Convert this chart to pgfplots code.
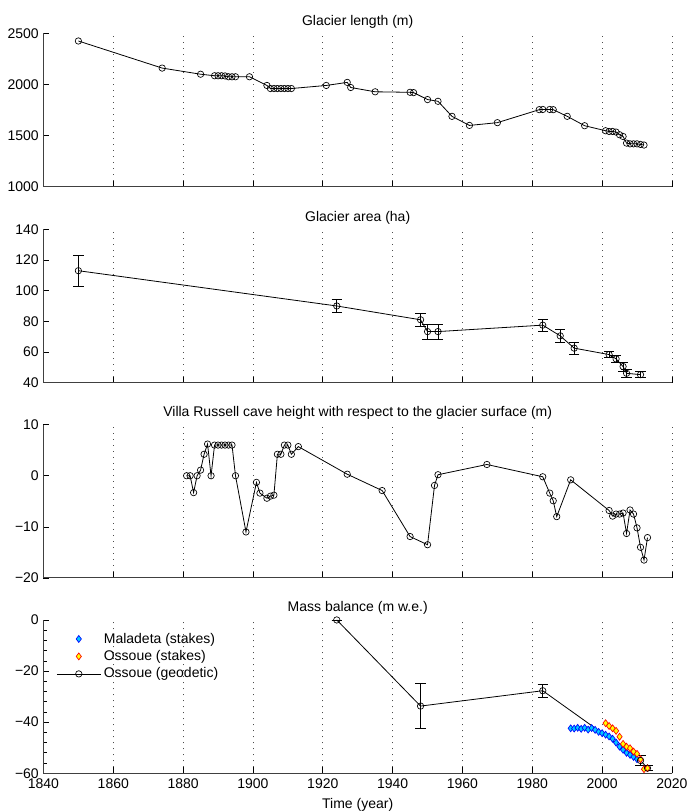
\documentclass[border=0pt]{standalone}
\usepackage{fontspec}
\setmainfont{Liberation Sans}
\usepackage{pgfplots}
\pgfplotsset{compat=1.18}

\definecolor{maladetaedge}{RGB}{0,0,255}
\definecolor{maladetafill}{RGB}{0,200,255}
\definecolor{ossoueedge}{RGB}{255,0,0}
\definecolor{ossouefill}{RGB}{255,255,0}

\pgfplotsset{
  panel/.style={
    scale only axis, width=471.4pt, height=115pt,
    xmin=1840, xmax=2020,
    xtick={1840,1860,...,2020},
    axis x line*=bottom, axis y line*=left,
    axis line style={-, black!75, line width=0.7pt},
    tick align=inside, tick style={black, line width=0.5pt},
    major tick length=4.5pt, minor tick length=2.4pt,
    xmajorgrids,
    major grid style={black!70, line width=0.45pt, dash pattern=on 0.6pt off 3.9pt},
    clip=false,
    font=\fontsize{10.5}{12.6}\selectfont,
    title style={yshift=-5.5pt},
  },
  geo/.style={black, line width=0.6pt, mark=o, mark size=2.4pt,
    mark options={solid, line width=0.5pt}},
  ebar/.style={error bars/y dir=both, error bars/y explicit,
    error bars/error bar style={black, line width=0.6pt},
    error bars/error mark options={black, rotate=90, mark size=3.9pt, line width=0.6pt}},
  lineleg/.style={legend image code/.code={\draw[mark repeat=2,mark phase=2,##1]
    plot coordinates {(0pt,0pt) (16.5pt,0pt) (33pt,0pt)};}},
  markleg/.style={legend image code/.code={\path (0pt,0pt) (33pt,0pt);
    \draw[##1] plot coordinates {(16.5pt,0pt)};}},
}

\begin{document}
\begin{tikzpicture}
\useasboundingbox (-32.6pt,-28.3pt) rectangle (483.4pt,580pt);

% glacier length
\begin{axis}[panel, at={(0,440pt)}, anchor=south west,
  ymin=1000, ymax=2500, ytick={1000,1500,2000,2500},
  yticklabels={1000,1500,2000,2500}, xticklabels={},
  title={Glacier length (m)}]
\addplot[geo] coordinates {
  (1850,2425) (1874,2160) (1885,2100) (1889,2085) (1890,2085) (1891,2085)
  (1892,2083) (1893,2075) (1894,2075) (1895,2075) (1899,2075) (1904,1990)
  (1905,1960) (1906,1960) (1907,1960) (1908,1960) (1909,1960) (1910,1960)
  (1911,1960) (1921,1990) (1927,2020) (1928,1970) (1935,1928) (1945,1923)
  (1946,1920) (1950,1852) (1953,1835) (1957,1688) (1962,1599) (1970,1626)
  (1982,1753) (1983,1755) (1985,1755) (1986,1753) (1990,1688) (1995,1596)
  (2001,1547) (2002,1540) (2003,1540) (2004,1534) (2005,1508) (2006,1491)
  (2007,1426) (2008,1419) (2009,1419) (2010,1419) (2011,1413) (2012,1407)
};
\end{axis}

% glacier area
\begin{axis}[panel, at={(0,293pt)}, anchor=south west,
  ymin=40, ymax=140, ytick={40,60,...,140},
  yticklabels={40,60,80,100,120,140}, xticklabels={},
  title={Glacier area (ha)}]
\addplot[geo, ebar] coordinates {
  (1850,113) +- (0,10)
  (1924,90) +- (0,4)
  (1948,81) +- (0,4)
  (1950,73.3) +- (0,5)
  (1953,73.3) +- (0,5)
  (1983,77.5) +- (0,4)
  (1988,70.5) +- (0,4)
  (1992,62.5) +- (0,4)
  (2002,58.3) +- (0,2)
  (2004,55.5) +- (0,2.5)
  (2006,50.5) +- (0,3)
  (2007,46.1) +- (0,2.5)
  (2011,45.2) +- (0,2)
};
\end{axis}

% cave height
\begin{axis}[panel, at={(0,146.5pt)}, anchor=south west,
  ymin=-20, ymax=10, ytick={-20,-10,0,10},
  yticklabels={−20,−10,0,10}, xticklabels={},
  title={Villa Russell cave height with respect to the glacier surface (m)}]
\addplot[geo] coordinates {
  (1881,0) (1882,0) (1883,-3.3) (1884,0) (1885,1.1) (1886,4.2) (1887,6.2)
  (1888,0) (1889,6) (1890,6) (1891,6) (1892,6) (1893,6) (1894,6) (1895,0)
  (1898,-11) (1901,-1.3) (1902,-3.4) (1904,-4.4) (1905,-4.0) (1906,-3.8)
  (1907,4.2) (1908,4.2) (1909,6) (1910,6) (1911,4.2) (1913,5.7) (1927,0.3)
  (1937,-2.9) (1945,-11.9) (1950,-13.5) (1952,-1.9) (1953,0.2) (1967,2.2)
  (1983,-0.2) (1985,-3.4) (1986,-4.9) (1987,-8.0) (1991,-0.8) (2002,-6.8)
  (2003,-7.9) (2004,-7.5) (2005,-7.5) (2006,-7.3) (2007,-11.3) (2008,-6.7)
  (2009,-7.5) (2010,-10.2) (2011,-14) (2012,-16.5) (2013,-12.1)
};
\end{axis}

% mass balance
\begin{axis}[panel, at={(0,0)}, anchor=south west,
  ymin=-60, ymax=0, ytick={-60,-40,-20,0},
  yticklabels={−60,−40,−20,0}, minor y tick num=4,
  xticklabels={1840,1860,1880,1900,1920,1940,1960,1980,2000,2020},
  xticklabel style={yshift=-0.8pt},
  xlabel={Time (year)},
  title={Mass balance (m w.e.)},
  legend style={at={(0,1)}, anchor=north west, xshift=6.5pt, yshift=-5.5pt,
    draw=none, fill=none, legend cell align=left,
    font=\fontsize{10.5}{12.6}\selectfont}]
\addplot[only marks, mark=diamond*, mark size=2.6pt,
  mark options={draw=maladetaedge, fill=maladetafill, line width=0.5pt},
  markleg] coordinates {
  (1991,-42.4) (1992,-42.5) (1993,-42.2) (1994,-42.6) (1995,-42.2)
  (1996,-42.9) (1997,-42.3) (1998,-43.0) (1999,-43.8) (2000,-44.3)
  (2001,-44.9) (2002,-45.6) (2003,-46.5) (2004,-48.0) (2005,-49.6)
  (2006,-50.8) (2007,-52.0) (2008,-52.8) (2009,-53.6) (2010,-54.5)
};
\addlegendentry{Maladeta (stakes)}
\addplot[only marks, mark=diamond*, mark size=2.6pt,
  mark options={draw=ossoueedge, fill=ossouefill, line width=0.5pt},
  markleg] coordinates {
  (2001,-40.4) (2002,-41.5) (2003,-42.4) (2004,-43.4) (2005,-45.7)
  (2006,-48.5) (2007,-49.6) (2008,-50.2) (2009,-51.5) (2010,-52.4)
  (2011,-54.5) (2012,-58.4) (2013,-58.0)
};
\addlegendentry{Ossoue (stakes)}
\addplot[geo, lineleg, ebar] coordinates {
  (1924,0) +- (0,0)
  (1948,-33.7) +- (0,8.7)
  (1983,-27.7) +- (0,2.6)
  (2011,-55) +- (0,2)
  (2013,-58) +- (0,1)
};
\addlegendentry{Ossoue (geodetic)}
\end{axis}
\end{tikzpicture}
\end{document}
